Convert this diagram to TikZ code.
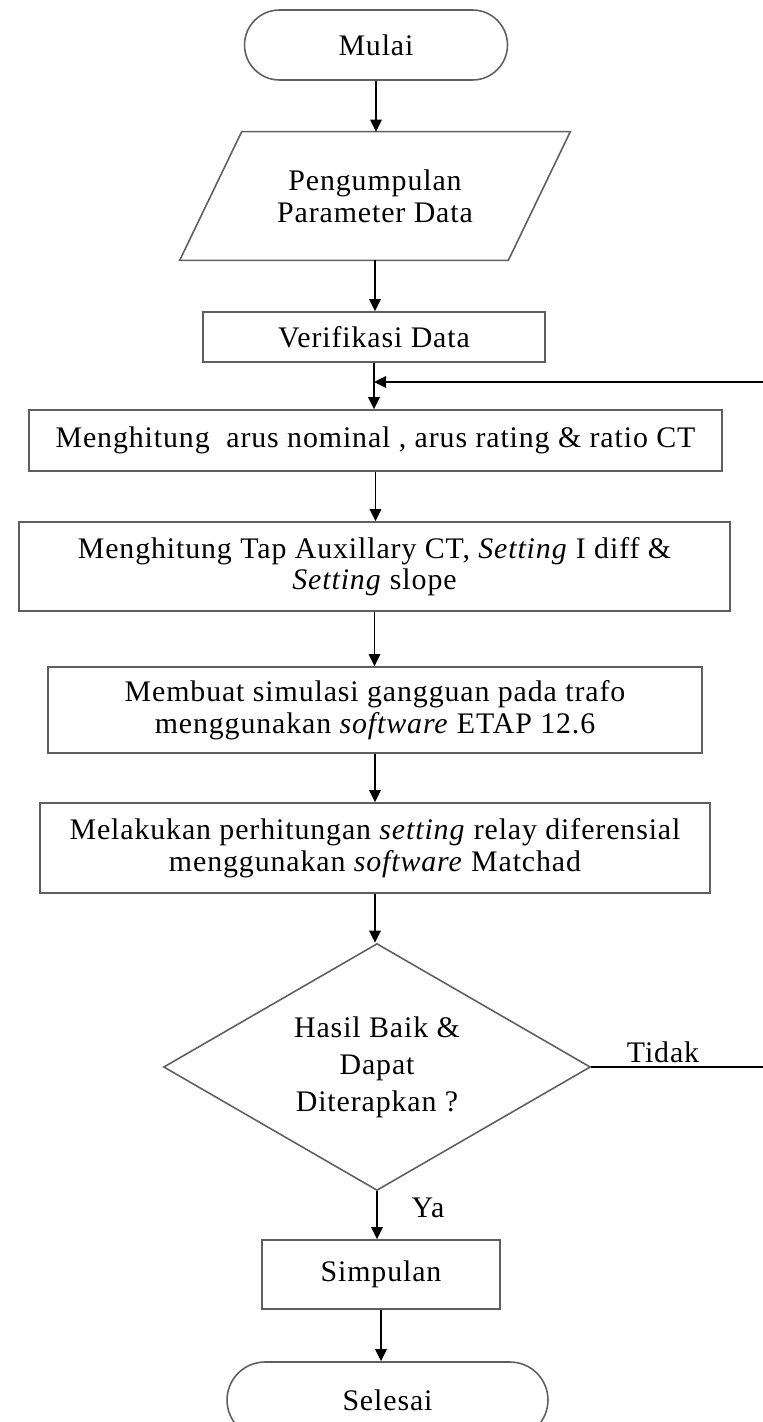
\documentclass[tikz,border=0pt]{standalone}
\usepackage{fontspec}
\setmainfont{Liberation Serif}[LetterSpace=3]
\usepackage{tikz}
\usetikzlibrary{shapes.geometric,arrows.meta}
\definecolor{boxgray}{HTML}{5F5F5F}

\begin{document}
\begin{tikzpicture}[x=0.02cm, y=-0.02cm,
    font={\fontsize{17}{18}\selectfont},
    box/.style={draw=boxgray, line width=0.9pt, rectangle, align=center, inner sep=0pt},
    term/.style={box, rounded corners=0.7cm},
    flow/.style={-{Triangle[length=2.4mm,width=2.3mm]}, line width=1pt, black}]
    \useasboundingbox (0,0) rectangle (762,1422);
    \node[term, minimum width=5.26cm, minimum height=1.4cm] (mulai) at (376,45) {Mulai};
    \node[align=center, minimum width=7.8cm, minimum height=2.56cm, inner sep=0pt] (data) at (375,196) {Pengumpulan\\Parameter Data};
    \draw[draw=boxgray, line width=0.9pt] ([xshift=1.24cm]data.north west) -- (data.north east)
        -- ([xshift=-1.24cm]data.south east) -- (data.south west) -- cycle;
    \node[box, minimum width=6.84cm, minimum height=1.0cm] (verif) at (374,337) {Verifikasi Data};
    \node[box, minimum width=13.86cm, minimum height=1.22cm] (arus) at (375.5,440.5) {Menghitung\ \ arus nominal , arus rating \& ratio CT};
    \node[box, minimum width=14.22cm, minimum height=1.78cm] (tap) at (374.5,566.5) {Menghitung Tap Auxillary CT, \textit{Setting} I diff \&\\\textit{Setting} slope};
    \node[box, minimum width=13.08cm, minimum height=1.72cm] (etap) at (375,710) {Membuat simulasi gangguan pada trafo\\menggunakan \textit{software} ETAP 12.6};
    \node[box, minimum width=13.4cm, minimum height=1.8cm] (relay) at (375,848) {Melakukan perhitungan \textit{setting} relay diferensial\\menggunakan \textit{software} Matchad};
    \node[box, diamond, aspect=1.73, minimum width=8.54cm, minimum height=4.94cm] (cek) at (377,1067) {Hasil Baik \&\\[3pt]Dapat\\[3pt]Diterapkan ?};
    \node[box, minimum width=4.76cm, minimum height=1.38cm] (simpulan) at (381,1274.5) {Simpulan};
    \node[term, rounded corners=0.76cm, minimum width=6.42cm, minimum height=1.52cm] (selesai) at (387.5,1400) {Selesai};
    \node (tidak) at (663,1052) {Tidak};
    \node (ya) at (428,1208) {Ya};
    \coordinate (balik) at (765,382);

    \draw[flow] (mulai.south) -- (mulai.south |- data.north);
    \draw[flow] (data.south) -- (data.south |- verif.north);
    \draw[flow] (verif.south) -- (verif.south |- arus.north);
    \draw[flow] (arus.south) -- (arus.south |- tap.north);
    \draw[flow] (tap.south) -- (tap.south |- etap.north);
    \draw[flow] (etap.south) -- (etap.south |- relay.north);
    \draw[flow] (relay.south) -- (relay.south |- cek.north);
    \draw[flow] (cek.south) -- (cek.south |- simpulan.north);
    \draw[flow] (simpulan.south) -- (simpulan.south |- selesai.north);
    \draw[flow] (cek.east) -- (cek.east -| balik) -- (balik) -- (balik -| verif.south);
\end{tikzpicture}
\end{document}
